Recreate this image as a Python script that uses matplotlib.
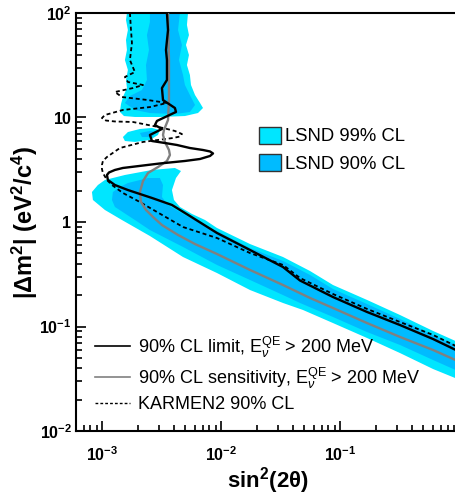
import numpy as np
import matplotlib
matplotlib.use('Agg')
import matplotlib.pyplot as plt
from matplotlib.patches import Patch
from matplotlib.lines import Line2D

plt.rcParams['font.family'] = ['Liberation Sans', 'DejaVu Sans']
plt.rcParams['mathtext.fontset'] = 'custom'
plt.rcParams['mathtext.rm'] = 'Liberation Sans'
plt.rcParams['mathtext.it'] = 'Liberation Sans:italic'
plt.rcParams['mathtext.bf'] = 'Liberation Sans:bold'

# all curves as log10(sin^2 2theta), log10(dm^2)
limit_ls2 = [-2.454, -2.445, -2.462, -2.454, -2.454, -2.496, -2.487, -2.387, -2.378,
             -2.538, -2.555, -2.496, -2.597, -2.580, -2.471, -2.370, -2.261, -2.151,
             -2.092, -2.067, -2.092, -2.176, -2.303, -2.513, -2.622, -2.723, -2.824,
             -2.891, -2.941, -2.958, -2.950, -2.891, -2.782, -2.580, -2.412, -2.261,
             -2.034, -1.756, -1.479, -1.336, -1.059, -0.773, -0.496, -0.218, 0.008]
limit_ldm = [2.000, 1.837, 1.646, 1.550, 1.359, 1.282, 1.167, 1.091, 1.053,
             0.967, 0.928, 0.890, 0.833, 0.775, 0.756, 0.737, 0.708, 0.689,
             0.675, 0.656, 0.632, 0.603, 0.584, 0.560, 0.545, 0.531, 0.517,
             0.498, 0.474, 0.450, 0.402, 0.354, 0.306, 0.230, 0.163, 0.057,
             -0.105, -0.268, -0.431, -0.560, -0.718, -0.861, -0.986, -1.120, -1.244]

sens_ls2 = [-2.445, -2.437, -2.437, -2.445, -2.479, -2.487, -2.471, -2.437, -2.429,
            -2.454, -2.529, -2.613, -2.655, -2.681, -2.672, -2.630, -2.571, -2.496,
            -2.361, -2.218, -2.034, -1.756, -1.479, -1.252, -1.059, -0.773, -0.496,
            -0.218, 0.008]
sens_ldm = [2.000, 1.550, 1.167, 0.976, 0.880, 0.833, 0.766, 0.689, 0.641,
            0.584, 0.526, 0.469, 0.392, 0.287, 0.191, 0.115, 0.048, -0.029,
            -0.124, -0.211, -0.306, -0.459, -0.603, -0.727, -0.823, -0.967, -1.100,
            -1.225, -1.340]

karmen_ls2 = [-2.765, -2.756, -2.748, -2.765, -2.723, -2.807, -2.782, -2.655, -2.739,
              -2.891, -2.832, -2.613, -2.454, -2.597, -2.824, -2.975, -3.000, -2.966,
              -2.891, -2.739, -2.487, -2.387, -2.328, -2.345, -2.403, -2.655, -2.849,
              -2.958, -2.992, -3.000, -3.000, -2.992, -2.958, -2.916, -2.824, -2.681,
              -2.538, -2.319, -2.034, -1.756, -1.479, -1.336, -1.059, -0.773, -0.496,
              -0.218, 0.008]
karmen_ldm = [2.000, 1.837, 1.713, 1.550, 1.435, 1.388, 1.340, 1.311, 1.282,
              1.244, 1.196, 1.167, 1.139, 1.100, 1.072, 1.024, 0.995, 0.971,
              0.962, 0.957, 0.900, 0.871, 0.842, 0.818, 0.804, 0.766, 0.708,
              0.622, 0.584, 0.545, 0.507, 0.469, 0.402, 0.354, 0.278, 0.191,
              0.096, -0.048, -0.153, -0.297, -0.411, -0.536, -0.689, -0.832, -0.957,
              -1.081, -1.206]

# LSND allowed regions (outlines)
lsnd99_top_ls2 = [-2.790, -2.277, -2.286, -2.269, -2.294, -2.269, -2.286, -2.261, -2.252,
                  -2.218, -2.176, -2.151, -2.193, -2.303, -2.513, -2.723, -2.815, -2.849,
                  -2.840, -2.824, -2.790, -2.798, -2.782, -2.807, -2.790, -2.798, -2.782,
                  -2.798]
lsnd99_top_ldm = [2.000, 2.000, 1.885, 1.789, 1.694, 1.598, 1.502, 1.407, 1.311,
                  1.215, 1.139, 1.091, 1.043, 1.014, 1.005, 1.005, 1.014, 1.053,
                  1.129, 1.196, 1.282, 1.359, 1.455, 1.550, 1.646, 1.742, 1.837,
                  1.933]
lsnd90_top_ls2 = [-2.597, -2.345, -2.361, -2.328, -2.353, -2.319, -2.303, -2.261, -2.218,
                  -2.261, -2.387, -2.597, -2.723, -2.807, -2.765, -2.664, -2.622, -2.630,
                  -2.605, -2.622, -2.597]
lsnd90_top_ldm = [2.000, 2.000, 1.837, 1.694, 1.550, 1.407, 1.311, 1.215, 1.120,
                  1.053, 1.033, 1.043, 1.072, 1.139, 1.206, 1.263, 1.359, 1.502,
                  1.646, 1.789, 1.914]
lsnd99_mid_ls2 = [-2.824, -2.782, -2.681, -2.580, -2.513, -2.529, -2.597, -2.723, -2.807]
lsnd99_mid_ldm = [0.813, 0.861, 0.890, 0.900, 0.880, 0.833, 0.785, 0.766, 0.775]
lsnd90_mid_ls2 = [-2.681, -2.597, -2.538, -2.580, -2.664]
lsnd90_mid_ldm = [0.852, 0.871, 0.861, 0.813, 0.813]
lsnd99_low_ls2 = [-3.084, -3.034, -2.975, -2.807, -2.580, -2.387, -2.336, -2.378, -2.412,
                  -2.395, -2.345, -2.244, -2.134, -2.034, -1.756, -1.479, -1.252, -1.059,
                  -0.773, -0.496, -0.218, 0.008, 0.008, -0.218, -0.496, -0.773, -1.059,
                  -1.311, -1.479, -1.756, -2.034, -2.319, -2.597, -2.832, -2.975, -3.076]
lsnd99_low_ldm = [0.287, 0.354, 0.402, 0.450, 0.498, 0.517, 0.488, 0.421, 0.306,
                  0.211, 0.144, 0.077, 0.019, -0.057, -0.211, -0.335, -0.469, -0.603,
                  -0.746, -0.890, -1.043, -1.158, -1.512, -1.407, -1.254, -1.110, -0.967,
                  -0.842, -0.775, -0.651, -0.488, -0.335, -0.134, 0.019, 0.115, 0.211]
lsnd90_low_ls2 = [-2.908, -2.849, -2.782, -2.613, -2.513, -2.487, -2.496, -2.445, -2.303,
                  -2.134, -2.034, -1.756, -1.479, -1.252, -1.059, -0.773, -0.496, -0.218,
                  0.008, 0.008, -0.218, -0.496, -0.773, -1.059, -1.336, -1.479, -1.756,
                  -2.034, -2.319, -2.597, -2.723, -2.891, -2.916]
lsnd90_low_ldm = [0.287, 0.335, 0.373, 0.421, 0.421, 0.354, 0.239, 0.163, 0.067,
                  -0.029, -0.086, -0.249, -0.373, -0.507, -0.641, -0.785, -0.928, -1.081,
                  -1.196, -1.435, -1.321, -1.177, -1.053, -0.909, -0.775, -0.699, -0.555,
                  -0.411, -0.239, -0.077, 0.019, 0.144, 0.211]

c99 = '#00e6ff'
c90 = '#00bbff'


def p10(a):
    return np.power(10.0, np.array(a))


fig = plt.figure(figsize=(4.56, 4.96), dpi=100)
ax = fig.add_axes([76 / 456, 65 / 496, 384 / 456, 418 / 496])
ax.set_xscale('log')
ax.set_yscale('log')

for xs, ys in [(lsnd99_top_ls2, lsnd99_top_ldm), (lsnd99_mid_ls2, lsnd99_mid_ldm),
               (lsnd99_low_ls2, lsnd99_low_ldm)]:
    ax.fill(p10(xs), p10(ys), color=c99, lw=0, zorder=1)
for xs, ys in [(lsnd90_top_ls2, lsnd90_top_ldm), (lsnd90_mid_ls2, lsnd90_mid_ldm),
               (lsnd90_low_ls2, lsnd90_low_ldm)]:
    ax.fill(p10(xs), p10(ys), color=c90, lw=0, zorder=2)

ax.plot(p10(karmen_ls2), p10(karmen_ldm), color='black', lw=1.3,
        ls=(0, (2.2, 1.6)), zorder=3)
ax.plot(p10(sens_ls2), p10(sens_ldm), color='#808080', lw=1.7, zorder=4)
ax.plot(p10(limit_ls2), p10(limit_ldm), color='black', lw=1.7, zorder=5)

ax.set_xlim(10 ** -3.218, 10 ** 0.008)
ax.set_ylim(1e-2, 1e2)

ax.spines['right'].set_visible(False)
for s in ['left', 'bottom', 'top']:
    ax.spines[s].set_linewidth(1.5)
ax.tick_params(which='both', direction='in', top=False, right=False, width=1.2)
ax.tick_params(which='major', length=7.5, labelsize=11.5)
ax.tick_params(which='minor', length=4)
ax.tick_params(axis='x', which='major', pad=10)
ax.tick_params(axis='y', which='major', pad=3)

ax.set_xticks([1e-3, 1e-2, 1e-1, 1])
ax.set_xticklabels([r'$\mathbf{10^{-3}}$', r'$\mathbf{10^{-2}}$',
                    r'$\mathbf{10^{-1}}$', r'$\mathbf{1}$'])
ax.set_yticks([1e-2, 1e-1, 1, 10, 100])
ax.set_yticklabels([r'$\mathbf{10^{-2}}$', r'$\mathbf{10^{-1}}$', r'$\mathbf{1}$',
                    r'$\mathbf{10}$', r'$\mathbf{10^{2}}$'])

ax.set_xlabel(r'$\mathbf{sin^2(2\theta)}$', fontsize=16, labelpad=1)
ax.set_ylabel(r'$\mathbf{|\Delta m^2|\ (eV^2/c^4)}$', fontsize=17)
ax.yaxis.set_label_coords(-0.094, 0.5)

h_lsnd = [Patch(facecolor=c99, edgecolor='#333333', lw=1, label='LSND 99% CL'),
          Patch(facecolor=c90, edgecolor='#333333', lw=1, label='LSND 90% CL')]
leg1 = ax.legend(handles=h_lsnd, loc='upper left', bbox_to_anchor=(0.477, 0.728),
                 frameon=False, fontsize=13.3, handlelength=1.19, handleheight=1.03,
                 handletextpad=0.2, labelspacing=0.45, borderpad=0, borderaxespad=0)
ax.add_artist(leg1)

h_lines = [Line2D([], [], color='black', lw=1.2,
                  label=r'90% CL limit, E$_{\nu}^{\rm QE}$ > 200 MeV'),
           Line2D([], [], color='#808080', lw=1.2,
                  label=r'90% CL sensitivity, E$_{\nu}^{\rm QE}$ > 200 MeV'),
           Line2D([], [], color='black', lw=1, ls=(0, (2, 1.5)), label='KARMEN2 90% CL')]
ax.legend(handles=h_lines, loc='lower left', bbox_to_anchor=(0.049, 0.042),
          frameon=False, fontsize=13, handlelength=1.95, handletextpad=0.43,
          labelspacing=0.32, borderpad=0, borderaxespad=0)

fig.savefig('out.png', dpi=100)
